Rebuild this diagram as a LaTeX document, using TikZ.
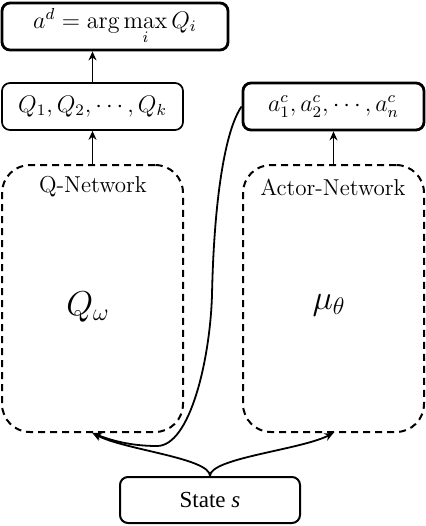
\documentclass[tikz,border=0pt]{standalone}
\usepackage{fontspec}
\usetikzlibrary{arrows.meta}
\newfontfamily\timesf{Liberation Serif}
\tikzset{
  solidbox/.style={draw, rounded corners=4pt, line width=0.85pt, inner sep=0pt},
  thickbox/.style={solidbox, line width=1.4pt},
  netbox/.style={draw, dashed, dash pattern=on 3.5pt off 2.5pt, rounded corners=14pt, line width=1pt,
    minimum width=90.5pt, minimum height=133.5pt, inner sep=0pt},
  conn/.style={line width=0.9pt, -{Stealth[length=4.5pt,width=4pt]}},
  plain/.style={line width=0.9pt},
  lbl/.style={font=\fontsize{11.5}{14}\selectfont, inner sep=0pt},
  big/.style={font=\fontsize{16.5}{20}\selectfont, inner sep=0pt}
}
\begin{document}
\begin{tikzpicture}[x=0.5pt,y=-0.5pt]
\useasboundingbox (0,0) rectangle (426,526);
% boxes
\node[thickbox, minimum width=113pt, minimum height=23.5pt] (top) at (115,26.5)
  {\fontsize{12}{14}\selectfont $a^d=\arg\max\limits_{i} Q_i$};
\node[solidbox, minimum width=90.5pt, minimum height=23.5pt] (qbox) at (92.5,106.5)
  {\fontsize{11.5}{14}\selectfont $Q_1,Q_2,\cdots,Q_k$};
\node[thickbox, minimum width=90.5pt, minimum height=23.5pt] (acbox) at (333.5,106.5)
  {\fontsize{11.5}{14}\selectfont $a_1^c,a_2^c,\cdots,a_n^c$};
\node[netbox] (qnet) at (92.5,298.5) {};
\node[netbox] (anet) at (333.5,298.5) {};
\node[lbl] (qlbl) at (93,187) {Q-Network};
\node[lbl] (albl) at (333,187) {Actor-Network};
\node[big] (qw) at (88,307) {$Q_\omega$};
\node[big] (mu) at (329,305) {$\mu_\theta$};
\node[solidbox, line width=1pt, minimum width=90pt, minimum height=23pt,
  font=\timesf\fontsize{11.5}{14}\selectfont] (state) at (210,500) {State \textit{s}};
% connectors
\draw[conn] (qbox.north) -- (qbox.north |- top.south);
\draw[conn] (qnet.north) -- (qbox.south);
\draw[conn] (anet.north) -- (acbox.south);
\draw[conn] (state.north) .. controls (210,458) and (125,450) .. (qnet.south);
\draw[conn] (state.north) .. controls (210,458) and (300,450) .. (anet.south);
\draw[conn] (acbox.west) .. controls (225,130) and (214,200) .. (212,295)
  .. controls (210,360) and (190,446) .. (157,446)
  .. controls (130,446) and (110,440) .. (qnet.south);
\end{tikzpicture}
\end{document}
